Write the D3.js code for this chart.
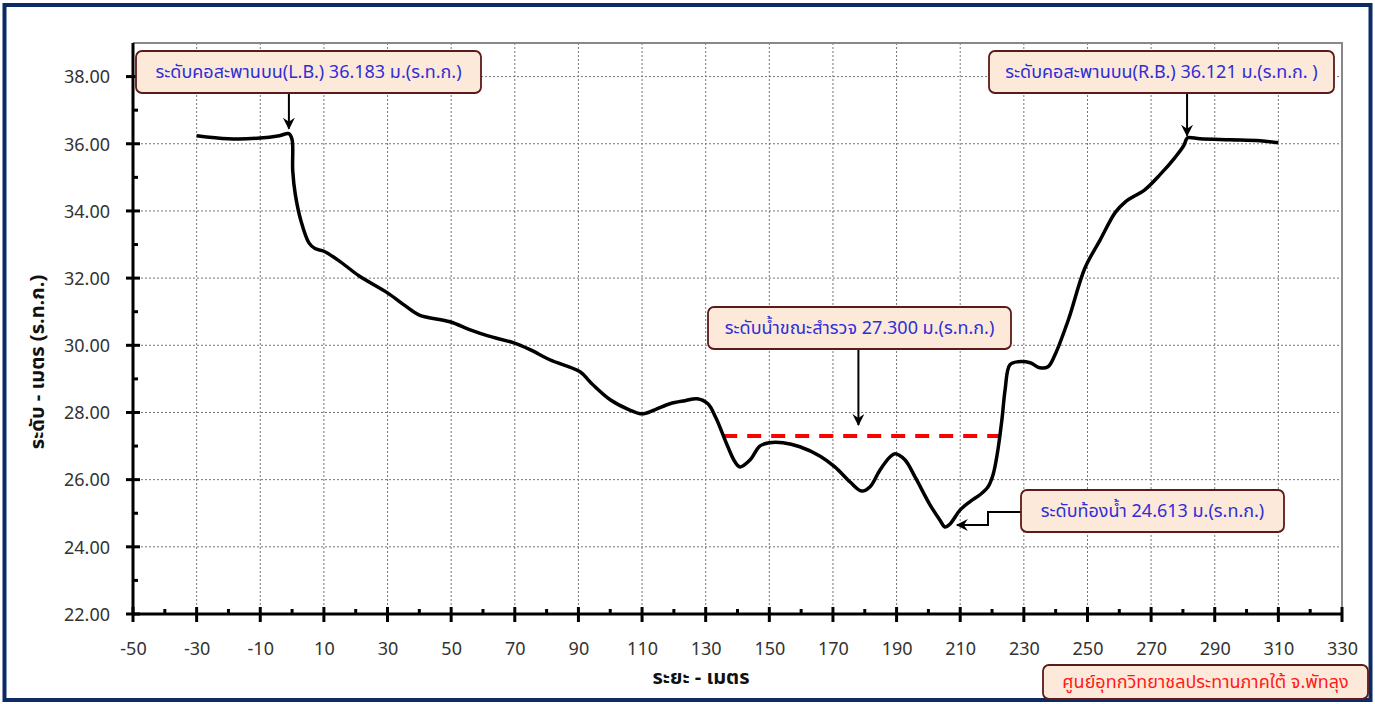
<!DOCTYPE html>
<html><head><meta charset="utf-8">
<script src="https://cdn.jsdelivr.net/npm/d3@7"></script>
<style>
html,body{margin:0;padding:0;background:#fff;}
svg{display:block;font-family:Tahoma,"Noto Sans Thai","Noto Sans",sans-serif;}
</style></head>
<body><svg id="c" width="1375" height="704"></svg>
<script>
// ---- data ----
const distance = [-30,-20,-10,-4,-1,0,0.2,1,2.8,5.3,7.2,10,15,21,30,35.5,40,49.6,56,61.6,69.7,74.8,81,90.5,94.3,100,106,110,114,118.8,123.5,127.3,130.7,133.2,136.7,139.2,140.8,144,147,150,154.3,159.6,166,170.6,175.4,179,181.6,184.8,188,189.5,192.6,195.8,200.5,203.6,205.2,206.8,210,213,216.2,218.7,220.3,221.6,223.1,224.1,225.6,228.2,232,235,237.6,239.8,244,249.2,254,258.7,262,268,272.8,277.5,280.3,281,281.6,285.4,294.8,304.2,310];
const elevation = [36.24,36.15,36.17,36.24,36.30,36.12,35.2,34.5,33.7,33.05,32.88,32.8,32.5,32.07,31.56,31.18,30.9,30.7,30.46,30.28,30.07,29.87,29.57,29.21,28.85,28.38,28.08,27.96,28.08,28.26,28.35,28.41,28.26,27.84,27.04,26.53,26.38,26.59,27.0,27.1,27.1,26.98,26.7,26.38,25.93,25.66,25.78,26.29,26.68,26.77,26.59,26.08,25.25,24.8,24.59,24.68,25.1,25.34,25.55,25.78,26.14,26.74,27.78,28.67,29.42,29.51,29.48,29.33,29.36,29.72,30.76,32.3,33.14,33.95,34.28,34.63,35.08,35.59,35.95,36.12,36.18,36.15,36.12,36.09,36.03];
const waterLevel = 27.3;
const waterRange = [135.5, 223.3];
const xTicks = [-50,-30,-10,10,30,50,70,90,110,130,150,170,190,210,230,250,270,290,310,330];
const yTicks = [22,24,26,28,30,32,34,36,38];
const labels = {
  lb: "ระดับคอสะพานบน(L.B.) 36.183 ม.(ร.ท.ก.)",
  rb: "ระดับคอสะพานบน(R.B.) 36.121 ม.(ร.ท.ก. )",
  water: "ระดับน้ำขณะสำรวจ 27.300 ม.(ร.ท.ก.)",
  bed: "ระดับท้องน้ำ 24.613 ม.(ร.ท.ก.)",
  credit: "ศูนย์อุทกวิทยาชลประทานภาคใต้ จ.พัทลุง",
  xTitle: "ระยะ - เมตร",
  yTitle: "ระดับ - เมตร (ร.ท.ก.)"
};
// annotation anchor points (data coords)
const lbPoint = [-1, 36.30], rbPoint = [281.3, 36.15], waterPoint = [178, 27.3], bedPoint = [205.8, 24.613];

// ---- layout ----
const svg = d3.select("#c");
const L = 133, R = 1342, T = 43, B = 614;
const x = d3.scaleLinear().domain([-50,330]).range([L,R]);
const y = d3.scaleLinear().domain([22,39]).range([B,T]);

// outer frame
svg.append("rect").attr("x",4.5).attr("y",5).attr("width",1366).attr("height",695)
  .attr("fill","#fff").attr("stroke","#0c2a64").attr("stroke-width",4);

// defs
const defs = svg.append("defs");
defs.append("marker").attr("id","arr").attr("viewBox","0 0 12 12").attr("refX",11).attr("refY",6)
  .attr("markerWidth",12).attr("markerHeight",12).attr("markerUnits","userSpaceOnUse").attr("orient","auto")
  .append("path").attr("d","M0,0 L12,6 L0,12 L4,6 Z").attr("fill","#000");

// grid
const g = svg.append("g");
g.selectAll(".vg").data(xTicks.filter(d=>d>-50 && d<330)).join("line")
  .attr("x1",d=>x(d)).attr("x2",d=>x(d)).attr("y1",T).attr("y2",B)
  .attr("stroke","#777").attr("stroke-width",1).attr("stroke-dasharray","2,2");
g.selectAll(".hg").data(yTicks.filter(d=>d>22)).join("line")
  .attr("x1",L).attr("x2",R).attr("y1",d=>y(d)).attr("y2",d=>y(d))
  .attr("stroke","#777").attr("stroke-width",1).attr("stroke-dasharray","2,2");

// plot border top/right
g.append("path").attr("d",`M${L},${T}H${R}V${B}`).attr("fill","none").attr("stroke","#888").attr("stroke-width",2);

// axes
const xAxis = d3.axisBottom(x).tickValues(xTicks).tickSize(0).tickFormat(d=>String(d));
const xa = svg.append("g").attr("transform",`translate(0,${B})`).call(xAxis);
xa.select(".domain").remove();
xa.selectAll("text").attr("dy",0).attr("y",41).attr("font-size",18).attr("fill","#333").attr("font-family","'Noto Sans',sans-serif");
const yAxis = d3.axisLeft(y).tickValues(yTicks).tickSize(0).tickFormat(d=>d.toFixed(2));
const ya = svg.append("g").attr("transform",`translate(${L},0)`).call(yAxis);
ya.select(".domain").remove();
ya.selectAll("text").attr("x",-23).attr("dy","0.35em").attr("font-size",18).attr("fill","#333").attr("font-family","'Noto Sans',sans-serif");

// tick marks
const minorX = d3.range(-40,330,20);
svg.selectAll(".mxt").data(xTicks).join("line").attr("x1",d=>x(d)).attr("x2",d=>x(d)).attr("y1",B-7).attr("y2",B+8).attr("stroke","#000").attr("stroke-width",3);
svg.selectAll(".nxt").data(minorX).join("line").attr("x1",d=>x(d)).attr("x2",d=>x(d)).attr("y1",B-5).attr("y2",B).attr("stroke","#000").attr("stroke-width",3);
const minorY = d3.range(23,39,2);
svg.selectAll(".myt").data(yTicks).join("line").attr("x1",L-7).attr("x2",L+7).attr("y1",d=>y(d)).attr("y2",d=>y(d)).attr("stroke","#000").attr("stroke-width",3);
svg.selectAll(".nyt").data(minorY).join("line").attr("x1",L).attr("x2",L+5).attr("y1",d=>y(d)).attr("y2",d=>y(d)).attr("stroke","#000").attr("stroke-width",3);
svg.append("line").attr("x1",L).attr("x2",L).attr("y1",T).attr("y2",B+1).attr("stroke","#000").attr("stroke-width",3);
svg.append("line").attr("x1",L-1).attr("x2",R+1).attr("y1",B).attr("y2",B).attr("stroke","#000").attr("stroke-width",3);

// axis titles
svg.append("text").attr("x",701).attr("y",684).attr("text-anchor","middle").attr("font-size",20).attr("font-weight","bold").attr("fill","#111").text(labels.xTitle);
svg.append("text").attr("transform","translate(44,362) rotate(-90)").attr("text-anchor","middle").attr("font-size",20).attr("font-weight","bold").attr("fill","#111").text(labels.yTitle);

// water level
svg.append("line").attr("x1",x(waterRange[0])).attr("x2",x(waterRange[1])).attr("y1",y(waterLevel)).attr("y2",y(waterLevel))
  .attr("stroke","#ff0000").attr("stroke-width",4).attr("stroke-dasharray","14,10");

// profile
const pts = distance.map((d,i)=>[d,elevation[i]]);
const line = d3.line().x(d=>x(d[0])).y(d=>y(d[1])).curve(d3.curveCatmullRom.alpha(0.5));
svg.append("path").attr("d",line(pts)).attr("fill","none").attr("stroke","#000").attr("stroke-width",3.5).attr("stroke-linejoin","round");

// annotation boxes
function box(x0,y0,w,h,text,color,size){
  svg.append("rect").attr("x",x0).attr("y",y0).attr("width",w).attr("height",h).attr("rx",6)
    .attr("fill","#fde9d9").attr("stroke","#5c1a1a").attr("stroke-width",1.8);
  svg.append("text").attr("x",x0+w/2).attr("y",y0+h/2).attr("dy","0.35em").attr("text-anchor","middle")
    .attr("font-size",size||18).attr("fill",color).text(text);
}
function arrow(pathD){
  svg.append("path").attr("d",pathD).attr("fill","none").attr("stroke","#000").attr("stroke-width",2).attr("marker-end","url(#arr)");
}
const blue = "#2e2ed6";
arrow(`M${x(lbPoint[0])},93 V${y(lbPoint[1])-5}`);
box(136,51,345,42,labels.lb,blue);
arrow(`M${x(rbPoint[0])},93 V${y(rbPoint[1])-3}`);
box(989,51,345,42,labels.rb,blue);
arrow(`M${x(waterPoint[0])},349 V${y(waterPoint[1])-11}`);
box(708,307,303,42,labels.water,blue);
arrow(`M1021,512 H988 V525 H${x(bedPoint[0])+10}`);
box(1021,490,263,42,labels.bed,blue);
box(1043,665,325,34,labels.credit,"#ff1a1a",18);
</script></body></html>
